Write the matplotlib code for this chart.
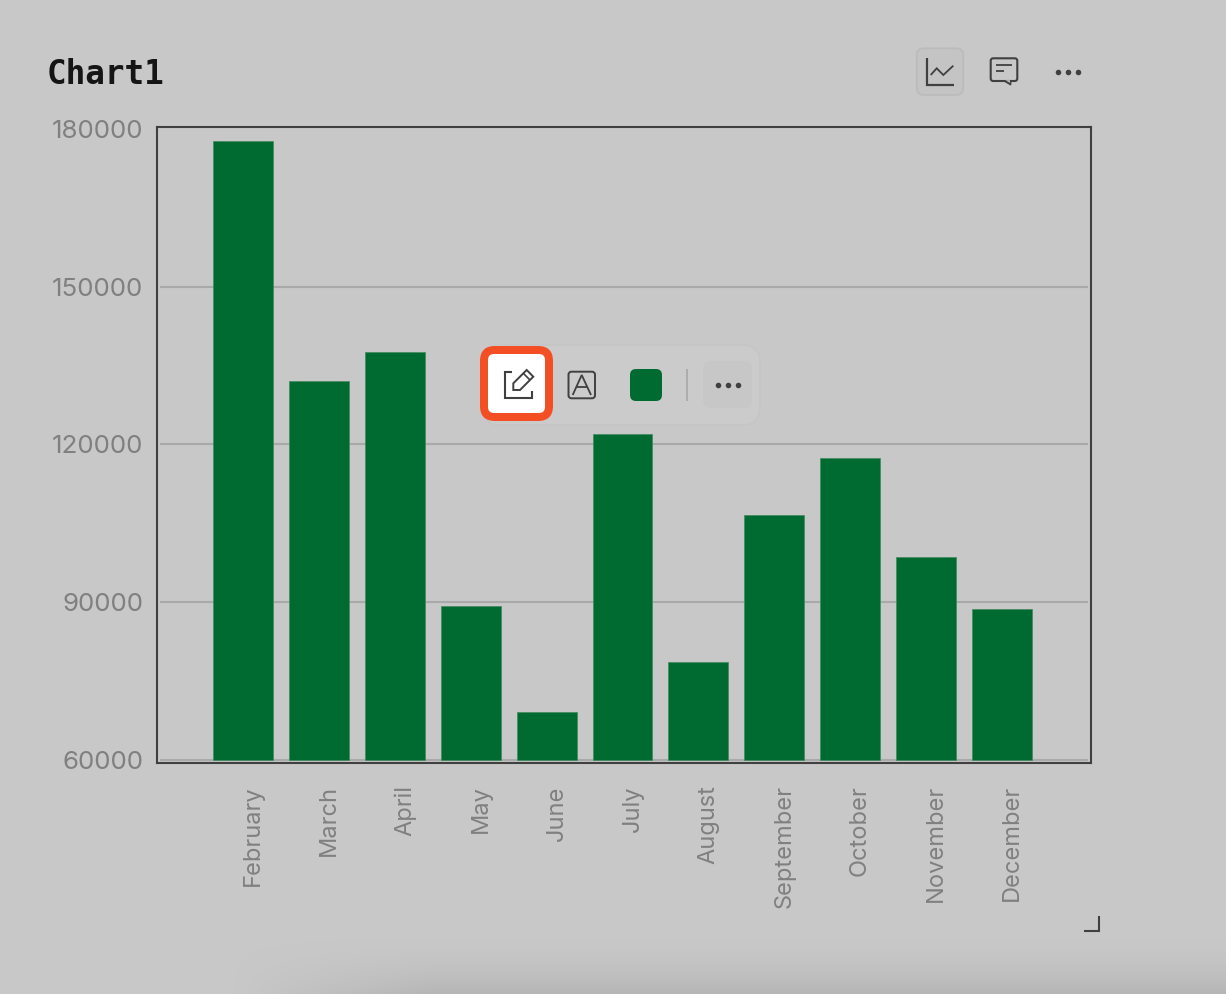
import matplotlib.pyplot as plt
import matplotlib.transforms as mtrans
from matplotlib.patches import FancyBboxPatch, Polygon
import numpy as np

meses = ["February", "March", "April", "May", "June", "July", "August",
         "September", "October", "November", "December"]
valores = [177640, 132060, 137480, 89340, 69210, 122000, 78700,
           106620, 117440, 98640, 88770]
ticks_y = [60000, 90000, 120000, 150000, 180000]
base_y = 60000

FUNDO = "#c8c8c8"
VERDE = "#006b31"
ESCURO = "#404040"
CINZA = "#808080"
FONTE = "Inter"

fig = plt.figure(figsize=(12.26, 9.94), dpi=100, facecolor=FUNDO)
ax = fig.add_axes([157 / 1226, 1 - 763 / 994, (1091 - 157) / 1226, (763 - 127) / 994])
ax.set_facecolor(FUNDO)

x = np.arange(len(meses))
alturas = np.array(valores) - base_y
ax.bar(x, alturas, bottom=base_y, width=0.79, color=VERDE, edgecolor="#3f8a5f", linewidth=0.5, zorder=3)
ax.hlines(ticks_y[:-1], 0.003, 0.997, transform=ax.get_yaxis_transform(),
          color="#a9a9a9", linewidth=1.5, zorder=1)

ax.set_xlim(-1.135, 11.175)
ax.set_ylim(59525, 180285)
ax.set_yticks(ticks_y)
ax.set_xticks(x)
ax.set_xticklabels(meses, rotation=90, ha="center", va="top")
ax.tick_params(length=0)
ax.tick_params(axis="y", labelsize=18.7, labelcolor=CINZA, pad=10)
ax.tick_params(axis="x", labelsize=17, labelcolor=CINZA, pad=16)
for lab in ax.get_yticklabels():
    lab.set_family(FONTE)
for lab in ax.get_xticklabels():
    lab.set_family(FONTE)
    lab.set_transform(lab.get_transform() + mtrans.ScaledTranslation(10 / 100, 0, fig.dpi_scale_trans))
for s in ax.spines.values():
    s.set_color(ESCURO)
    s.set_linewidth(1.5)

fig.text(47 / 1226, 1 - 75 / 994, "Chart1", fontsize=23.5, fontweight="bold",
         family="DejaVu Sans Mono", color="#151515", va="center", ha="left")

# camada da interface por cima do grafico, em pixels
ui = fig.add_axes([0, 0, 1, 1], zorder=5)
ui.set_xlim(0, 1226)
ui.set_ylim(994, 0)
ui.axis("off")
ui.patch.set_alpha(0)


def linha(xs, ys, cor=ESCURO, lw=1.4):
    ui.plot(xs, ys, color=cor, linewidth=lw, solid_capstyle="butt", solid_joinstyle="miter", zorder=6)


def caixa(x0, y0, x1, y1, r, face, borda="none", lw=1.0, z=2):
    ui.add_patch(FancyBboxPatch((x0 + r, y0 + r), x1 - x0 - 2 * r, y1 - y0 - 2 * r,
                                boxstyle=f"round,pad={r},rounding_size={r}",
                                facecolor=face, edgecolor=borda, linewidth=lw, zorder=z))


def pontos(xs, y, tam):
    ui.plot(xs, [y] * len(xs), "o", color=ESCURO, markersize=tam, markeredgewidth=0, zorder=6)


# sombra em baixo
sombra = np.zeros((64, 500, 4))
sombra[..., :3] = 0.55
perfil_v = np.linspace(0, 1, 64) ** 2
perfil_h = np.clip(np.linspace(0, 5, 500), 0, 1)
sombra[..., 3] = 0.3 * np.outer(perfil_v, perfil_h)
ui.imshow(sombra, extent=(230, 1226, 994, 930), aspect="auto", zorder=1)
ui.set_xlim(0, 1226)
ui.set_ylim(994, 0)

# barra de ferramentas
caixa(482, 345, 760, 425, 18, "#cbcbcb", "#c5c5c5")
caixa(480, 346, 553, 421, 15, "#f44e24", z=3)
caixa(488, 354, 545, 413, 6, "#ffffff", z=4)
caixa(703, 361, 752, 408, 8, "#c7c7c7", z=3)
caixa(630, 369, 662, 401, 6, VERDE, z=4)
linha([687, 687], [369, 401], "#a8a8a8", 1.2)
pontos([718, 728, 738], 385, 4)

# icone lapis
linha([512, 505, 505, 531.7, 531.7], [371.7, 371.7, 398.3, 398.3, 391], lw=1.5)
ui.add_patch(Polygon([(513.3, 383.3), (526.7, 370), (533.3, 376.7), (520, 390), (513.3, 390)],
                     closed=True, fill=False, edgecolor=ESCURO, linewidth=1.4, zorder=6))
linha([523.3, 530], [373.3, 380], lw=1.2)

# icone texto
caixa(568.5, 371.7, 595, 398.3, 3, "none", ESCURO, 1.4, z=5)
linha([572.7, 581.7, 591], [395, 375, 395], lw=1.3)
linha([576.7, 587.3], [386.7, 386.7], lw=1.3)

# botoes do topo
caixa(916.7, 48.3, 963.3, 95, 7, "#c4c4c4", "#bbbbbb", 1.2)
linha([926.7, 926.7, 954], [58.3, 85, 85], lw=1.6)
linha([930.7, 936.7, 943.3, 953.3], [75, 68.3, 75, 65.7], lw=1.3)
caixa(990.7, 58.3, 1017.3, 81, 2.5, "none", ESCURO, 1.5, z=3)
ui.add_patch(Polygon([(1004, 81), (1010.7, 85), (1011, 81)], closed=True, facecolor=ESCURO,
                     edgecolor=ESCURO, linewidth=0.8, zorder=4))
ui.add_patch(Polygon([(1005.5, 80.2), (1009.8, 82.8), (1010, 80.2)], closed=True, facecolor=FUNDO,
                     edgecolor="none", zorder=5))
linha([996, 1011.7], [65, 65], lw=1.3)
linha([996, 1003.5], [70.7, 70.7], lw=1.3)
pontos([1058, 1068, 1078], 71.7, 4)

# canto de redimensionar
linha([1084, 1099.3, 1099.3], [930.7, 930.7, 916], lw=1.5)

fig.savefig("out.png", dpi=100, facecolor=FUNDO)
